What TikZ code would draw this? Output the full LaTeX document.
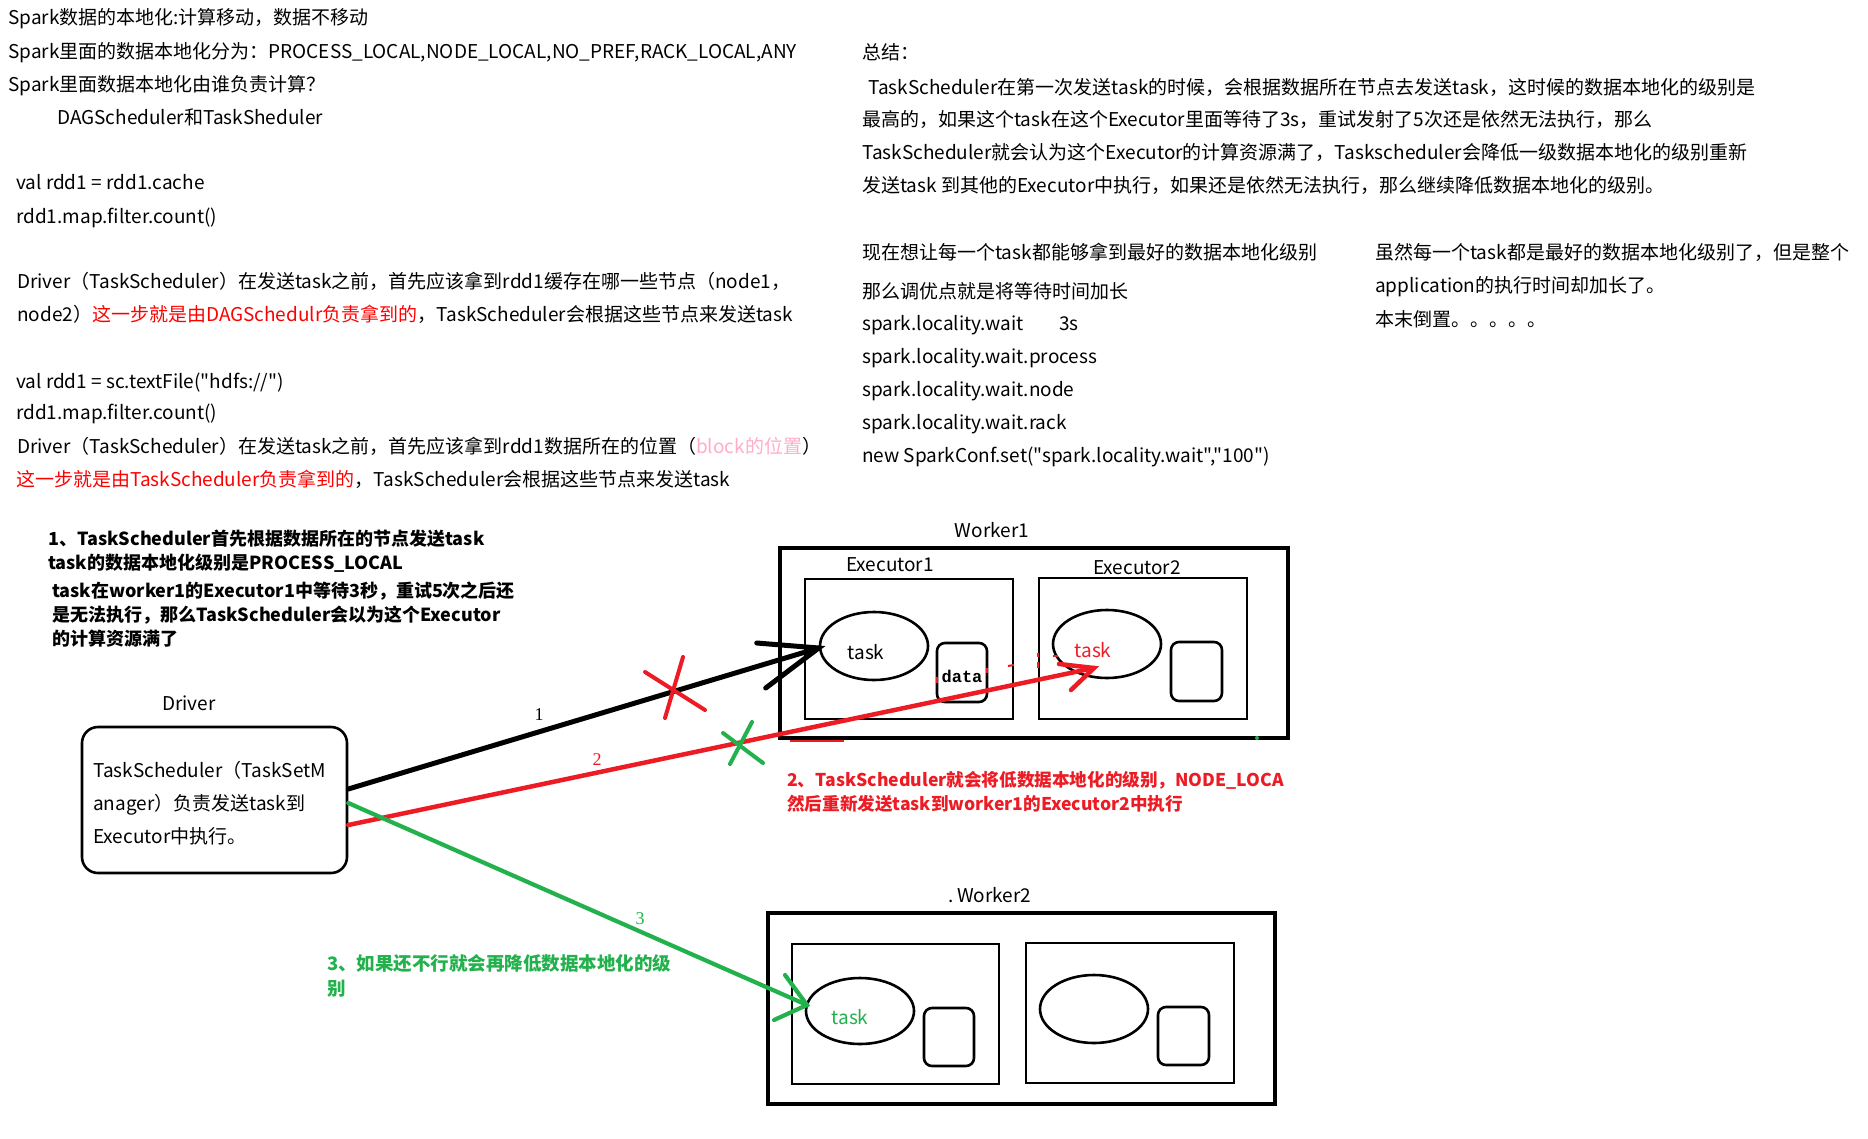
\documentclass[tikz,border=0pt]{standalone}
\usepackage{fontspec}
\usetikzlibrary{shapes.geometric,calc}
\setmainfont{Noto Sans CJK SC}[Ligatures=TeXOff]
\newfontfamily\numfont{Liberation Serif}
\newfontfamily\datafont{Liberation Mono}
\definecolor{pred}{HTML}{ED1C24}
\definecolor{pgreen}{HTML}{22B14C}
\definecolor{ppink}{HTML}{FFAEC9}
\definecolor{tred}{HTML}{FF0000}
\begin{document}
\begin{tikzpicture}[x=1pt,y=-1pt,
  txt/.style={anchor=base west, inner sep=0pt, font=\fontsize{19}{22}\selectfont},
  note/.style={anchor=base west, inner sep=0pt, font=\fontsize{18}{24}\selectfont\bfseries},
  lbl/.style={inner sep=0pt, font=\fontsize{19}{22}\selectfont},
  num/.style={inner sep=0pt, font=\fontsize{18}{20}\selectfont\numfont},
  worker/.style={draw, line width=4.2pt},
  execbox/.style={draw, line width=2.8pt},
  taskell/.style={draw, ellipse, line width=2.6pt, minimum width=108pt, minimum height=68pt, inner sep=0pt},
  databox/.style={draw, rounded corners=8pt, line width=2.6pt},
  blk/.style={line width=5pt, line cap=round, black},
  redl/.style={line width=4.5pt, line cap=round, pred},
  grnl/.style={line width=4.2pt, line cap=round, pgreen},
]
\fill[white] (0,0) rectangle (1868,1138);
\useasboundingbox (0,0) rectangle (1868,1138);

% ---- left text block ----
\node[txt] (t1) at (8,24) {Spark数据的本地化:计算移动，数据不移动};
\node[txt] (t2) at (8,58) {Spark里面的数据本地化分为：PROCESS\_LOCAL,NODE\_LOCAL,NO\_PREF,RACK\_LOCAL,ANY};
\node[txt] (t3) at (8,91) {Spark里面数据本地化由谁负责计算？};
\node[txt] (t4) at (57,124) {DAGScheduler和TaskSheduler};
\node[txt] (t5) at (16,189) {val rdd1 = rdd1.cache};
\node[txt] (t6) at (16,223) {rdd1.map.filter.count()};
\node[txt] (t7) at (17,288) {Driver（TaskScheduler）在发送task之前，首先应该拿到rdd1缓存在哪一些节点（node1，};
\node[txt] (t8) at (17,321) {node2）\textcolor{tred}{这一步就是由DAGSchedulr负责拿到的}，TaskScheduler会根据这些节点来发送task};
\node[txt] (t9) at (16,388) {val rdd1 = sc.textFile("hdfs://")};
\node[txt] (t10) at (16,419) {rdd1.map.filter.count()};
\node[txt] (t11) at (17,453) {Driver（TaskScheduler）在发送task之前，首先应该拿到rdd1数据所在的位置（\textcolor{ppink}{block的位置}）};
\node[txt] (t12) at (16,486) {\textcolor{tred}{这一步就是由TaskScheduler负责拿到的}，TaskScheduler会根据这些节点来发送task};

% ---- right text block ----
\node[txt] (r1) at (862,59) {总结：};
\node[txt] (r2) at (868,94) {TaskScheduler在第一次发送task的时候，会根据数据所在节点去发送task，这时候的数据本地化的级别是};
\node[txt] (r3) at (862,126) {最高的，如果这个task在这个Executor里面等待了3s，重试发射了5次还是依然无法执行，那么};
\node[txt] (r4) at (862,159) {TaskScheduler就会认为这个Executor的计算资源满了，Taskscheduler会降低一级数据本地化的级别重新};
\node[txt] (r5) at (862,192) {发送task 到其他的Executor中执行，如果还是依然无法执行，那么继续降低数据本地化的级别。};
\node[txt] (r6) at (862,259) {现在想让每一个task都能够拿到最好的数据本地化级别};
\node[txt] (r7) at (862,298) {那么调优点就是将等待时间加长};
\node[txt] (r8) at (862,330) {spark.locality.wait};
\node[txt] (r8b) at (1059,330) {3s};
\node[txt] (r9) at (862,363) {spark.locality.wait.process};
\node[txt] (r10) at (862,396) {spark.locality.wait.node};
\node[txt] (r11) at (862,429) {spark.locality.wait.rack};
\node[txt] (r12) at (862,462) {new SparkConf.set("spark.locality.wait","100")};
\node[txt] (s1) at (1375,259) {虽然每一个task都是最好的数据本地化级别了，但是整个};
\node[txt] (s2) at (1375,292) {application的执行时间却加长了。};
\node[txt] (s3) at (1375,326) {本末倒置。。。。。};

% ---- notes ----
\node[note] (n1) at (48,545) {1、TaskScheduler首先根据数据所在的节点发送task};
\node[note] (n2) at (48,569) {task的数据本地化级别是PROCESS\_LOCAL};
\node[note] (n3) at (52,597) {task在worker1的Executor1中等待3秒，重试5次之后还};
\node[note] (n4) at (52,621) {是无法执行，那么TaskScheduler会以为这个Executor};
\node[note] (n5) at (52,645) {的计算资源满了};
\node[note, text=pred, font=\fontsize{17.6}{24}\selectfont\bfseries] (m1) at (787,786) {2、TaskScheduler就会将低数据本地化的级别，NODE\_LOCA};
\node[note, text=pred, font=\fontsize{17.6}{24}\selectfont\bfseries] (m2) at (787,810) {然后重新发送task到worker1的Executor2中执行};
\node[note, text=pgreen, font=\fontsize{18.5}{24}\selectfont\bfseries] (g1) at (327,970) {3、如果还不行就会再降低数据本地化的级};
\node[note, text=pgreen, font=\fontsize{18.5}{24}\selectfont\bfseries] (g2) at (327,995) {别};

% ---- driver ----
\node[lbl] (drvlbl) at (189,703) {Driver};
\node[draw, line width=2.6pt, rounded corners=16pt, minimum width=265pt, minimum height=146pt, inner sep=0pt] (drv) at (214.5,800) {};
\node[txt] (d1) at (93,777) {TaskScheduler（TaskSetM};
\node[txt] (d2) at (93,810) {anager）负责发送task到};
\node[txt] (d3) at (93,843) {Executor中执行。};

% ---- worker1 ----
\node[lbl] (w1lbl) at (992,530) {Worker1};
\draw[worker] (780,548) rectangle (1288,738);
\node[lbl] (e1lbl) at (890,565) {Executor1};
\draw[execbox] (805,579) rectangle (1013,719);
\node[lbl] (e2lbl) at (1137,568) {Executor2};
\draw[execbox] (1039,578) rectangle (1247,719);
\node[taskell] (el1) at (874,646) {};
\node[lbl] (tk1) at (866,652) {task};
\draw[databox] (937,643) rectangle (987,702);
\node[inner sep=0pt, font=\fontsize{17}{20}\selectfont\datafont\bfseries] (dt) at (962,676) {data};
\node[taskell] (el2) at (1107,644) {};
\node[lbl, text=pred] (tk2) at (1093,650) {task};
\draw[databox] (1171,642) rectangle (1222,701);

% ---- worker2 ----
\node[lbl] (w2lbl) at (990,895) {.\hspace{3pt}Worker2};
\draw[worker, line width=3.6pt] (768,913) rectangle (1275,1104);
\draw[execbox] (792,944) rectangle (999,1084);
\draw[execbox] (1026,943) rectangle (1234,1083);
\node[taskell, minimum height=66pt] (el3) at (860,1011) {};
\node[lbl, text=pgreen] (tk3) at (850,1017) {task};
\draw[databox] (924,1008) rectangle (974,1066);
\node[taskell] (el4) at (1094,1009) {};
\draw[databox] (1158,1007) rectangle (1209,1065);

% ---- connectors ----
\coordinate (sa) at ([yshift=11pt]drv.east);
\coordinate (sb) at ([yshift=-25pt]drv.east);
\coordinate (sc) at ([yshift=-3pt]drv.east);
\coordinate (ta) at ([yshift=-2pt]el1.west);
\coordinate (tb) at (1094,668);
\coordinate (tc) at (807,1005);

\draw[blk] (sa) -- (ta);
\draw[blk] ($(ta)+(-62,-5)$) -- (ta) -- ($(ta)+(-53,40)$);
\draw[redl] (sb) -- (tb);
\draw[redl] ($(tb)+(-35,-4)$) -- (tb) -- ($(tb)+(-23,22)$);
\draw[grnl] (sc) -- (tc);
\draw[grnl] ($(tc)+(-22,-30)$) -- (tc) -- ($(tc)+(-33,15)$);

\node[num] (l1) at (539,715) {1};
\node[num, text=pred] (l2) at (597,760) {2};
\node[num, text=pgreen] (l3) at (640,919) {3};

% crosses
\draw[redl, line width=4pt] (645,672) -- (705,710);
\draw[redl, line width=4pt] (683,657) -- (665,718);
\draw[grnl, line width=4pt] (723,733) -- (763,763);
\draw[grnl, line width=4pt] (752,722) -- (730,764);

% small leftover marks
\draw[pred, line width=2pt] (937,677) -- (937,683);
\draw[pred, line width=2pt] (987,668) -- (987,673);
\draw[pred, line width=2pt] (1008,666) -- (1014,665);
\draw[pred, line width=2pt] (1038,653) -- (1038,657);
\draw[pred, line width=2pt] (1038,662) -- (1038,668);
\draw[pred, line width=2pt] (1053,656) -- (1058,656);
\draw[pred, line width=2pt] (790,741) -- (844,741);
\fill[pgreen] (1257,738) circle (2pt);
\fill[pgreen] (762,762) circle (2pt);
\end{tikzpicture}
\end{document}
